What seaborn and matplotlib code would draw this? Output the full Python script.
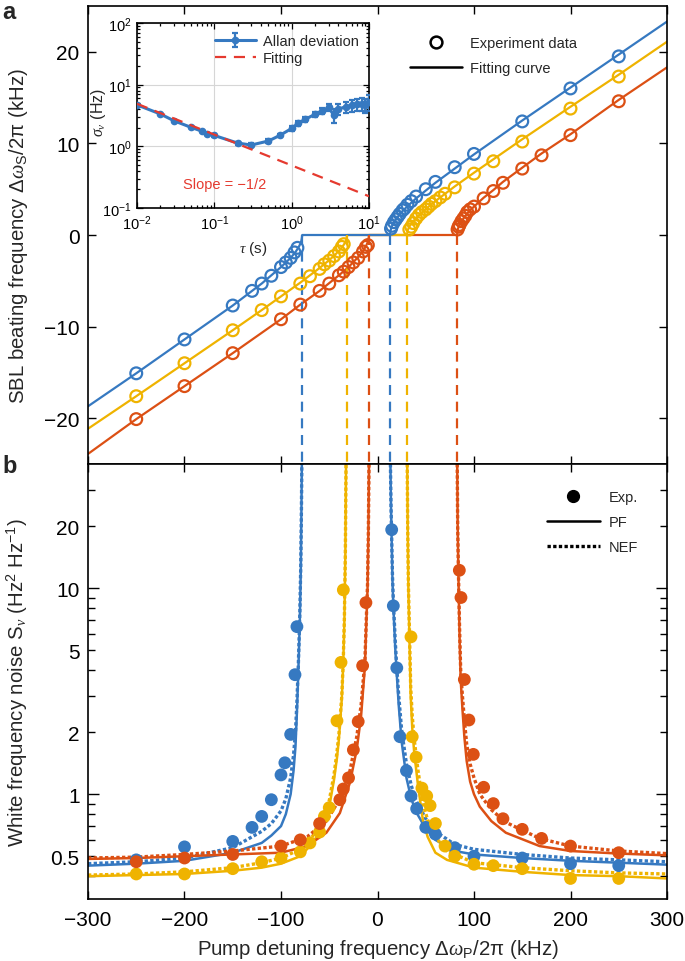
"""
Injection-locked SBL: beat frequency vs pump detuning (a) with Allan deviation inset,
and white frequency noise vs pump detuning (b).
"""
import matplotlib
matplotlib.use("Agg")
import matplotlib.pyplot as plt
from matplotlib.lines import Line2D
from matplotlib.ticker import FixedLocator, FuncFormatter, LogLocator, NullFormatter
import numpy as np
import seaborn as sns

BLUE = "#3679c1"
YELLOW = "#efb300"
ORANGE = "#dc5014"
RED = "#e53a2f"

# ---- panel a: experiment points (kHz) ----
BLUE_EXP_X = [-250, -200, -150, -130, -120, -110, -100, -95, -90, -86, -83,
              14, 15, 17, 19, 21, 23, 26, 28, 31, 35, 40, 50, 60, 80, 100, 150, 200, 250]
BLUE_EXP_Y = [-15.1, -11.4, -7.7, -6.1, -5.3, -4.45, -3.5, -3.0, -2.5, -1.9, -1.4,
              0.7, 1.0, 1.4, 1.7, 2.0, 2.3, 2.7, 2.9, 3.3, 3.7, 4.2, 5.0, 5.8, 7.4, 8.85, 12.4, 16.0, 19.5]
YELLOW_EXP_X = [-250, -200, -150, -120, -100, -80, -70, -60, -55, -50, -45, -40, -37, -35,
                33, 35, 37, 40, 43, 46, 50, 53, 56, 60, 65, 70, 80, 100, 120, 150, 200, 250]
YELLOW_EXP_Y = [-17.6, -14.0, -10.4, -8.2, -6.7, -5.3, -4.5, -3.7, -3.2, -2.8, -2.3, -1.8, -1.3, -1.0,
                0.6, 0.9, 1.3, 1.8, 2.2, 2.5, 2.8, 3.1, 3.4, 3.7, 4.1, 4.5, 5.2, 6.7, 8.05, 10.2, 13.8, 17.3]
ORANGE_EXP_X = [-250, -200, -150, -100, -80, -60, -50, -40, -35, -30, -25, -20, -15, -12, -10,
                83, 84, 85, 87, 89, 91, 93, 96, 100, 110, 120, 130, 150, 170, 200, 250]
ORANGE_EXP_Y = [-20.1, -16.5, -12.9, -9.2, -7.6, -6.1, -5.3, -4.4, -4.0, -3.5, -3.0, -2.5, -1.8, -1.3, -1.1,
                0.6, 0.9, 1.1, 1.5, 1.8, 2.1, 2.5, 2.8, 3.1, 4.0, 4.8, 5.7, 7.25, 8.7, 10.9, 14.6]

# ---- panel a: fitting curves ----
BLUE_FIT_X = [-300, -250, -200, -150, -120, -100, -90, -85, -82, -80, -79, -78.4, -78,
              13, 13.4, 14, 15, 17, 20, 25, 30, 40, 60, 100, 150, 200, 250, 300]
BLUE_FIT_Y = [-18.7, -15.1, -11.4, -7.7, -5.3, -3.5, -2.5, -1.86, -1.38, -0.97, -0.68, -0.35, 0,
              0, 0.4, 0.68, 0.97, 1.38, 1.86, 2.5, 3.04, 4.0, 5.7, 8.8, 12.5, 16.1, 19.7, 23.3]
YELLOW_FIT_X = [-300, -250, -200, -150, -120, -100, -80, -60, -50, -45, -40, -37, -35, -34, -33, -32.2, -31.6,
                30.6, 31.2, 32, 33, 35, 40, 45, 50, 60, 80, 100, 150, 200, 250, 300]
YELLOW_FIT_Y = [-21.15, -17.6, -14.0, -10.4, -8.2, -6.7, -5.2, -3.6, -2.74, -2.26, -1.74, -1.37, -1.07, -0.9, -0.69, -0.47, 0,
                0, 0.47, 0.69, 0.9, 1.23, 1.85, 2.36, 2.83, 3.7, 5.3, 6.8, 10.45, 14.0, 17.5, 21.1]
ORANGE_FIT_X = [-300, -250, -200, -150, -100, -80, -60, -40, -30, -20, -15, -12, -10, -9.4, -8.8,
                82.4, 83, 83.6, 85, 90, 95, 100, 110, 120, 130, 150, 170, 200, 250, 300]
ORANGE_FIT_Y = [-23.9, -20.1, -16.5, -12.9, -9.2, -7.6, -6.1, -4.4, -3.5, -2.4, -1.75, -1.23, -0.75, -0.53, 0,
                0, 0.53, 0.75, 1.1, 1.95, 2.6, 3.1, 4.07, 4.9, 5.8, 7.35, 8.9, 11.0, 14.75, 18.3]

# locking range edges (kHz)
BLUE_LOCK = [-78, 13]
YELLOW_LOCK = [-31.6, 30.6]
ORANGE_LOCK = [-8.8, 82.4]

# ---- inset: Allan deviation ----
TAU = [0.01, 0.02, 0.03, 0.05, 0.07, 0.08, 0.1, 0.2, 0.3, 0.5, 0.7, 1.0, 1.2, 1.5, 2.0,
       2.5, 3.0, 3.5, 4.0, 5.0, 6.0, 7.0, 8.0, 9.0, 10.0]
SIGMA = [4.7, 3.35, 2.6, 2.03, 1.75, 1.6, 1.5, 1.13, 1.05, 1.22, 1.5, 1.95, 2.35, 2.75, 3.3,
         3.8, 4.3, 3.2, 4.0, 4.4, 4.6, 4.8, 4.9, 4.7, 5.3]
SIGMA_ERR = [0.05, 0.05, 0.05, 0.05, 0.05, 0.05, 0.06, 0.06, 0.07, 0.08, 0.1, 0.15, 0.2, 0.25, 0.3,
             0.4, 0.5, 0.8, 0.8, 0.9, 1.0, 1.1, 1.2, 1.2, 1.5]
FIT_TAU = [0.01, 10]
FIT_SIGMA = [4.9, 0.155]

# ---- panel b: experiment points (Hz^2/Hz) ----
BLUE_S_X = [-250, -200, -150, -130, -120, -110, -100, -96, -90, -85.5, -83.5,
            14.7, 16.4, 20, 23.3, 30, 34.7, 40.6, 50, 60, 80, 100, 150, 200, 250]
BLUE_S_Y = [0.48, 0.555, 0.59, 0.69, 0.78, 0.94, 1.24, 1.42, 1.95, 3.8, 6.5,
            19.2, 8.2, 4.1, 1.9, 1.3, 0.98, 0.85, 0.69, 0.64, 0.55, 0.50, 0.49, 0.46, 0.45]
YELLOW_S_X = [-250, -200, -150, -120, -100, -80, -70, -60, -55, -50, -42, -37.8, -35.4,
              34.7, 36, 40, 46, 51, 54.5, 60, 70, 80, 100, 120, 150, 200, 250]
YELLOW_S_Y = [0.41, 0.41, 0.435, 0.47, 0.49, 0.525, 0.58, 0.655, 0.78, 0.86, 2.27, 4.36, 9.8,
              5.8, 1.9, 1.51, 1.07, 0.98, 0.88, 0.72, 0.56, 0.50, 0.457, 0.45, 0.435, 0.39, 0.39]
ORANGE_S_X = [-250, -200, -150, -100, -80, -60, -39, -35.4, -30, -25, -20, -15.4, -12,
              84.8, 86.5, 90, 94.7, 99.3, 110, 120, 130, 150, 170, 200, 250]
ORANGE_S_Y = [0.47, 0.49, 0.51, 0.56, 0.60, 0.72, 0.94, 1.06, 1.2, 1.64, 2.25, 4.2, 8.5,
              12.2, 9.0, 3.6, 2.29, 1.56, 1.08, 0.90, 0.76, 0.675, 0.61, 0.56, 0.52]

# ---- panel b: PF (solid) and NEF (dotted) curves, left and right branches ----
BLUE_L_X = [-300, -250, -200, -150, -120, -110, -100, -95, -90, -87, -85, -83.5, -82, -80.5, -79.5, -78.8, -78.4]
BLUE_PF_L = [0.45, 0.46, 0.475, 0.52, 0.58, 0.63, 0.70, 0.80, 1.0, 1.3, 1.7, 2.5, 4.0, 7.0, 12, 25, 40]
BLUE_NEF_L = [0.46, 0.47, 0.49, 0.55, 0.66, 0.72, 0.83, 0.95, 1.2, 1.55, 2.0, 2.8, 4.3, 7.5, 13, 25, 40]
BLUE_R_X = [13.4, 14.0, 14.6, 15.5, 16.5, 18.5, 20, 22, 25, 30, 35, 40, 50, 60, 80, 100, 150, 200, 250, 300]
BLUE_PF_R = [40, 25, 18, 11, 8, 5, 3.8, 2.7, 1.8, 1.2, 0.95, 0.82, 0.68, 0.6, 0.53, 0.51, 0.49, 0.475, 0.465, 0.455]
BLUE_NEF_R = [40, 25, 18.5, 11.5, 8.5, 5.4, 4.1, 3.0, 2.05, 1.4, 1.1, 0.93, 0.76, 0.66, 0.57, 0.54, 0.51, 0.49, 0.48, 0.47]

YELLOW_L_X = [-300, -250, -200, -150, -120, -100, -80, -70, -60, -55, -50, -45, -42, -40, -37, -35.5, -34.3, -33.3, -32.6]
YELLOW_PF_L = [0.40, 0.405, 0.41, 0.425, 0.44, 0.46, 0.50, 0.56, 0.65, 0.74, 0.87, 1.18, 1.5, 1.85, 2.9, 4.3, 7, 15, 40]
YELLOW_NEF_L = [0.405, 0.41, 0.42, 0.44, 0.465, 0.49, 0.54, 0.60, 0.70, 0.80, 0.93, 1.25, 1.6, 1.95, 3.0, 4.4, 7.2, 15, 40]
YELLOW_R_X = [30.8, 31.3, 32, 33, 34.4, 36, 38, 42, 47, 52, 60, 72, 100, 150, 200, 250, 300]
YELLOW_PF_R = [40, 20, 10, 6, 3.0, 2.1, 1.6, 1.1, 0.75, 0.62, 0.52, 0.48, 0.44, 0.42, 0.405, 0.40, 0.39]
YELLOW_NEF_R = [40, 20, 10.5, 6.5, 3.3, 2.4, 1.85, 1.3, 0.9, 0.75, 0.62, 0.53, 0.465, 0.44, 0.425, 0.415, 0.41]

ORANGE_L_X = [-300, -250, -200, -150, -100, -73, -53, -39, -28.5, -21.5, -17, -14.5, -13, -11.5, -10.3, -9.5, -8.8]
ORANGE_PF_L = [0.485, 0.49, 0.50, 0.51, 0.52, 0.56, 0.65, 0.81, 1.14, 1.65, 2.4, 3.4, 4.2, 7, 10, 18, 40]
ORANGE_NEF_L = [0.49, 0.495, 0.51, 0.53, 0.56, 0.62, 0.74, 0.95, 1.3, 1.9, 2.7, 3.7, 4.5, 7.3, 10.5, 18, 40]
ORANGE_R_X = [82.6, 83.1, 83.8, 85, 86.2, 88, 90, 92.4, 96, 100, 106, 118, 133, 168, 200, 250, 300]
ORANGE_PF_R = [40, 20, 12, 6, 3.6, 2.6, 1.9, 1.45, 1.15, 1.0, 0.87, 0.74, 0.65, 0.56, 0.53, 0.515, 0.505]
ORANGE_NEF_R = [40, 20, 12.5, 6.5, 4.0, 3.0, 2.3, 1.75, 1.4, 1.2, 1.0, 0.84, 0.73, 0.61, 0.56, 0.53, 0.515]

X_TICKS = [-300, -200, -100, 0, 100, 200, 300]

sns.set_theme(style="ticks")
plt.rcParams["font.family"] = ["Liberation Sans", "DejaVu Sans"]
plt.rcParams["mathtext.fontset"] = "custom"
plt.rcParams["mathtext.rm"] = "Liberation Sans"
plt.rcParams["mathtext.sf"] = "Liberation Sans"
plt.rcParams["mathtext.it"] = "Liberation Serif:italic"
plt.rcParams["mathtext.bf"] = "Liberation Sans:bold"
plt.rcParams["axes.linewidth"] = 1.2
plt.rcParams["axes.edgecolor"] = "black"

LABEL_FS = 14.7
TICK_FS = 15

W, H = 685, 962
fig = plt.figure(figsize=(W / 100, H / 100), dpi=100)
ax_a = fig.add_axes([88 / W, 1 - 465 / H, 579 / W, 458 / H])
ax_b = fig.add_axes([88 / W, 1 - 900 / H, 579 / W, 435 / H])
ax_in = fig.add_axes([137 / W, 1 - 209 / H, 232 / W, 185 / H])


def style_ticks(ax, labelsize=TICK_FS):
    ax.tick_params(which="both", direction="in", top=True, right=True,
                   colors="black", labelsize=labelsize, width=1.0)
    ax.tick_params(which="major", length=6, pad=6)
    ax.tick_params(which="minor", length=3.5)


# ---------------- panel a ----------------
fits = [(ORANGE_FIT_X, ORANGE_FIT_Y, ORANGE), (YELLOW_FIT_X, YELLOW_FIT_Y, YELLOW),
        (BLUE_FIT_X, BLUE_FIT_Y, BLUE)]
for xs, ys, c in fits:
    sns.lineplot(x=xs, y=ys, ax=ax_a, color=c, lw=1.6, sort=False, estimator=None)

for lock, c in [(ORANGE_LOCK, ORANGE), (YELLOW_LOCK, YELLOW), (BLUE_LOCK, BLUE)]:
    for xl in lock:
        ax_a.plot([xl, xl], [0, -25], color=c, lw=1.6, ls=(0, (4.5, 3)))

for xs, ys, c in [(BLUE_EXP_X, BLUE_EXP_Y, BLUE), (YELLOW_EXP_X, YELLOW_EXP_Y, YELLOW),
                  (ORANGE_EXP_X, ORANGE_EXP_Y, ORANGE)]:
    sns.scatterplot(x=xs, y=ys, ax=ax_a, color=c, s=72, marker="o",
                    facecolors="none", edgecolor=c, linewidth=1.6, zorder=3)

ax_a.set_xlim(-300, 300)
ax_a.set_ylim(-25, 25)
ax_a.set_xticks(X_TICKS)
ax_a.set_xticklabels([])
ax_a.set_yticks([-20, -10, 0, 10, 20])
style_ticks(ax_a)
ax_a.set_ylabel("SBL beating frequency Δ$\\omega_{\\rm S}$/2π (kHz)", fontsize=LABEL_FS)
ax_a.yaxis.set_label_coords(-0.10, 0.5)

ax_a.legend(
    handles=[Line2D([], [], ls="none", marker="o", mfc="none", mec="black", mew=1.8, ms=8.5),
             Line2D([], [], color="black", lw=1.8)],
    labels=["Experiment data", "Fitting curve"],
    loc="upper left", bbox_to_anchor=(0.556, 0.934), frameon=False, fontsize=10.5,
    handlelength=3.6, handletextpad=0.5, labelspacing=0.75, borderpad=0, borderaxespad=0)

# ---------------- inset ----------------
allan = ax_in.errorbar(TAU, SIGMA, yerr=SIGMA_ERR, color=BLUE, lw=2.2, marker="o", ms=4.5,
                       capsize=2.5, elinewidth=1.6, capthick=1.6, zorder=3)
sns.lineplot(x=FIT_TAU, y=FIT_SIGMA, ax=ax_in, color=RED, lw=1.6, linestyle=(0, (5, 3.5)),
             zorder=4)
ax_in.set_xscale("log")
ax_in.set_yscale("log")
ax_in.set_xlim(1e-2, 1e1)
ax_in.set_ylim(1e-1, 1e2)
ax_in.xaxis.set_minor_locator(LogLocator(base=10, subs=np.arange(2, 10)))
ax_in.yaxis.set_minor_locator(LogLocator(base=10, subs=np.arange(2, 10)))
ax_in.xaxis.set_minor_formatter(NullFormatter())
ax_in.yaxis.set_minor_formatter(NullFormatter())
ax_in.grid(True, which="major", color="#d6d6d6", lw=0.8)
ax_in.tick_params(which="both", direction="in", top=True, right=True, colors="black",
                  labelsize=10.5, width=0.9)
ax_in.tick_params(which="major", length=4, pad=4)
ax_in.tick_params(which="minor", length=2.2)
ax_in.set_xlabel("$\\tau$ (s)", fontsize=11)
ax_in.xaxis.set_label_coords(0.5, -0.17)
ax_in.set_ylabel("$\\sigma_\\nu$ (Hz)", fontsize=11.5)
ax_in.yaxis.set_label_coords(-0.125, 0.52)
ax_in.text(0.039, 0.244, "Slope = −1/2", color=RED, fontsize=10.5, ha="left", va="center")
ax_in.legend(
    handles=[allan, Line2D([], [], color=RED, lw=1.6, ls=(0, (5, 3.5)))],
    labels=["Allan deviation", "Fitting"],
    loc="upper left", bbox_to_anchor=(0.336, 0.94), frameon=False, fontsize=10.5,
    handlelength=2.8, handletextpad=0.5, labelspacing=0.2, borderpad=0, borderaxespad=0)

# ---------------- panel b ----------------
branches = [
    (BLUE_L_X, BLUE_PF_L, BLUE_NEF_L, BLUE), (BLUE_R_X, BLUE_PF_R, BLUE_NEF_R, BLUE),
    (YELLOW_L_X, YELLOW_PF_L, YELLOW_NEF_L, YELLOW), (YELLOW_R_X, YELLOW_PF_R, YELLOW_NEF_R, YELLOW),
    (ORANGE_L_X, ORANGE_PF_L, ORANGE_NEF_L, ORANGE), (ORANGE_R_X, ORANGE_PF_R, ORANGE_NEF_R, ORANGE),
]
for xs, pf, nef, c in branches:
    sns.lineplot(x=xs, y=pf, ax=ax_b, color=c, lw=1.8, sort=False, estimator=None)
    sns.lineplot(x=xs, y=nef, ax=ax_b, color=c, lw=2.4, linestyle=(0, (1, 0.7)),
                 sort=False, estimator=None)

for xs, ys, c in [(BLUE_S_X, BLUE_S_Y, BLUE), (YELLOW_S_X, YELLOW_S_Y, YELLOW),
                  (ORANGE_S_X, ORANGE_S_Y, ORANGE)]:
    sns.scatterplot(x=xs, y=ys, ax=ax_b, color=c, s=85, marker="o", edgecolor="none",
                    linewidth=0, zorder=3)

ax_b.set_yscale("log")
ax_b.set_xlim(-300, 300)
ax_b.set_ylim(0.31, 40)
ax_b.set_xticks(X_TICKS)
ax_b.set_xticklabels([str(v).replace("-", "−") for v in X_TICKS])
ax_b.yaxis.set_major_locator(FixedLocator([1, 10]))
ax_b.yaxis.set_minor_locator(FixedLocator([0.4, 0.5, 0.6, 0.7, 0.8, 0.9, 2, 3, 4, 5, 6, 7, 8, 9, 20, 30]))
labelled = {0.5: "0.5", 1: "1", 2: "2", 5: "5", 10: "10", 20: "20"}
fmt = FuncFormatter(lambda v, p: next((t for k, t in labelled.items() if abs(v - k) < 1e-6), ""))
ax_b.yaxis.set_major_formatter(fmt)
ax_b.yaxis.set_minor_formatter(fmt)
style_ticks(ax_b)
ax_b.tick_params(axis="x", which="major", pad=8)
ax_b.tick_params(axis="y", which="minor", length=5, labelsize=TICK_FS, pad=6)
ax_b.tick_params(axis="y", which="major", length=8)
ax_b.set_ylabel("White frequency noise S$_\\nu$ (Hz$^2$ Hz$^{-1}$)", fontsize=LABEL_FS)
ax_b.yaxis.set_label_coords(-0.10, 0.5)
ax_b.set_xlabel("Pump detuning frequency Δ$\\omega_{\\rm P}$/2π (kHz)", fontsize=LABEL_FS)
ax_b.xaxis.set_label_coords(0.5, -0.088)

ax_b.legend(
    handles=[Line2D([], [], ls="none", marker="o", mfc="black", mec="black", ms=8.5),
             Line2D([], [], color="black", lw=1.8),
             Line2D([], [], color="black", lw=2.4, ls=(0, (1, 0.7)))],
    labels=["Exp.", "PF", "NEF"],
    loc="lower left", bbox_to_anchor=(0.793, 0.793), frameon=False, fontsize=10.5,
    handlelength=3.6, handletextpad=0.6, labelspacing=0.75, borderpad=0, borderaxespad=0)

fig.text(0.003, 0.999, "a", fontsize=17, fontweight="bold", va="top", ha="left")
fig.text(0.003, 1 - 455 / H, "b", fontsize=17, fontweight="bold", va="top", ha="left")

fig.savefig("out.png", dpi=100)
